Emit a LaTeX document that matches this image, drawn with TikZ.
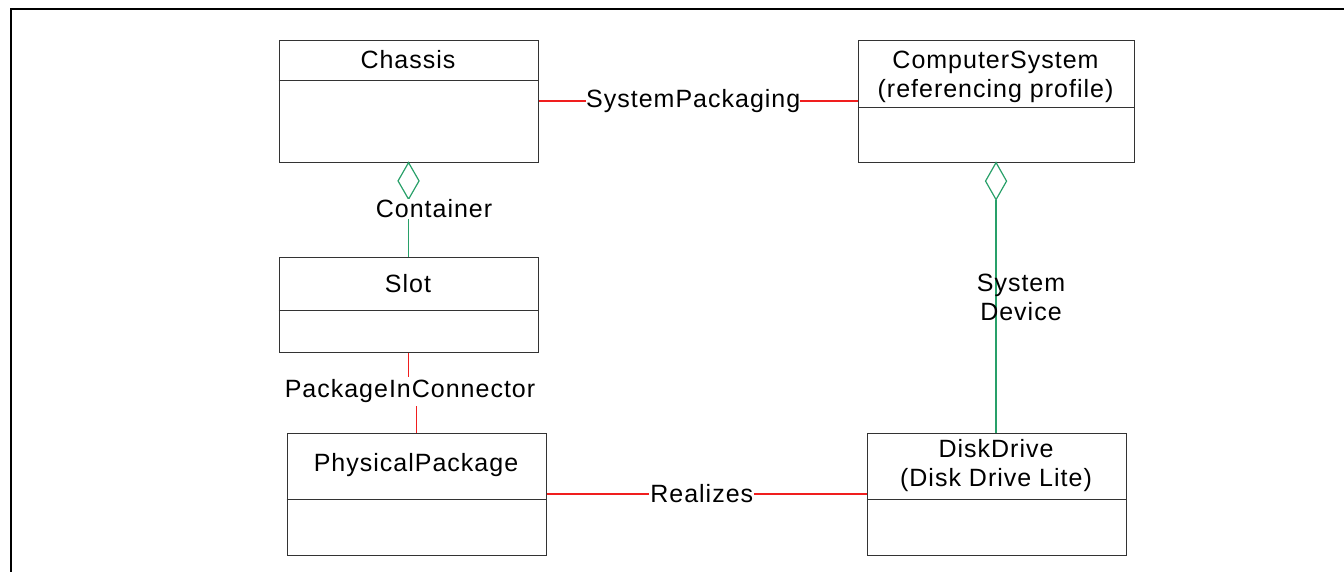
\documentclass[tikz,border=0pt]{standalone}
\usepackage{fontspec}
\setmainfont{Liberation Sans}[LetterSpace=4]
\definecolor{assocred}{RGB}{240,30,30}
\definecolor{agggreen}{RGB}{40,160,105}
\begin{document}
\begin{tikzpicture}[x=1pt,y=-1pt,
  font=\fontsize{25}{29}\selectfont,
  umlbox/.style={draw=black!80,line width=1.1pt,inner sep=0pt,anchor=north west},
  divider/.style={draw=black!80,line width=1.1pt},
  title/.style={align=center,inner sep=0pt},
  redline/.style={draw=assocred,line width=1.4pt},
  greenline/.style={draw=agggreen,line width=1.2pt},
  lbl/.style={fill=white,inner sep=0pt,minimum height=29pt,align=center},
  plainlbl/.style={inner sep=0pt,align=center}]
\useasboundingbox (0,0) rectangle (1344,571);
% frame
\draw[line width=2pt] (10.5,572) -- (10.5,8.5) -- (1345,8.5);
% boxes
\node[umlbox,minimum width=259pt,minimum height=122pt] (chassis) at (278.5,39.5) {};
\draw[divider] (chassis.west |- 0,80.5) -- (chassis.east |- 0,80.5);
\node[title] (chassisT) at (408,60) {Chassis};

\node[umlbox,minimum width=276pt,minimum height=122pt] (cs) at (857.5,39.5) {};
\draw[divider] (cs.west |- 0,107.5) -- (cs.east |- 0,107.5);
\node[title] (csT) at (995.5,77) {ComputerSystem\\(referencing profile)};

\node[umlbox,minimum width=259pt,minimum height=95pt] (slot) at (278.5,256.5) {};
\draw[divider] (slot.west |- 0,310.5) -- (slot.east |- 0,310.5);
\node[title] (slotT) at (408,283.3) {Slot};

\node[umlbox,minimum width=259pt,minimum height=122pt] (pp) at (286.5,432.5) {};
\draw[divider] (pp.west |- 0,499.5) -- (pp.east |- 0,499.5);
\node[title] (ppT) at (416,465.5) {PhysicalPackage};

\node[umlbox,minimum width=259pt,minimum height=122pt] (dd) at (866.5,432.5) {};
\draw[divider] (dd.west |- 0,499.5) -- (dd.east |- 0,499.5);
\node[title] (ddT) at (996,466) {DiskDrive\\(Disk Drive Lite)};

% aggregation diamonds
\draw[greenline] (chassis.south) -- ++(10.5,18.3) -- ++(-10.5,18.3) coordinate (d1) -- ++(-10.5,-18.3) -- cycle;
\draw[greenline] (cs.south) -- ++(10.5,18.5) -- ++(-10.5,18.5) coordinate (d2) -- ++(-10.5,-18.5) -- cycle;

% Container
\draw[greenline] (d1) -- (slot.north);
\node[fill=white,inner sep=1pt] (containerL) at (434,209) {Container};

% SystemDevice
\draw[greenline] (d2) -- (d2 |- dd.north);
\node[plainlbl] (sdL) at (1021,297) {System\\Device};

% SystemPackaging
\draw[redline] (chassis.east) -- node[lbl,pos=0.485] (spL) {SystemPackaging} (cs.west);

% PackageInConnector
\node[lbl,fill=none] (picL) at (410,391.5) {PackageInConnector};
\draw[redline] (slot.south) -- (slot.south |- picL.north);
\draw[redline] (pp.north |- picL.south) -- (pp.north);

% Realizes
\draw[redline] (pp.east) -- node[lbl,pos=0.485,inner xsep=1pt] (realL) {Realizes} (dd.west);
\end{tikzpicture}
\end{document}
